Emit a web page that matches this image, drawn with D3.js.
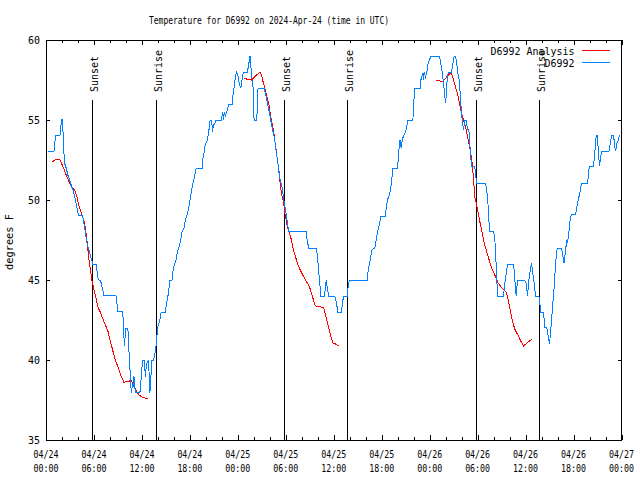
<!DOCTYPE html>
<html><head><meta charset="utf-8">
<script src="https://cdn.jsdelivr.net/npm/d3@7"></script>
<style>
body{margin:0;background:#fff}
svg{display:block}
text{font-family:"DejaVu Sans Mono",monospace;font-size:10.5px;fill:#000}
</style>
</head><body>
<svg id="chart" width="640" height="480"></svg>
<script>
// ---------------- data ----------------
const titleText = "Temperature for D6992 on 2024-Apr-24 (time in UTC)";
const yAxisLabel = "degrees F";
const obsName = "D6992";
const analysisName = "D6992 Analysis";

// hours since 04/24 00:00 UTC
const majorTickHours = [0,6,12,18,24,30,36,42,48,54,60,66,72];
const tickDates = ["04/24","04/24","04/24","04/24","04/25","04/25","04/25","04/25","04/26","04/26","04/26","04/26","04/27"];
const tickTimes = ["00:00","06:00","12:00","18:00","00:00","06:00","12:00","18:00","00:00","06:00","12:00","18:00","00:00"];
const minorTickHours = [2,4,8,10,14,16,20,22,26,28,32,34,38,40,44,46,50,52,56,58,62,64,68,70];
const yTicks = [35,40,45,50,55,60];

const sunsetHours = [5.8, 29.82, 53.85];
const sunriseHours = [13.8, 37.71, 61.74];

// observed temperature [hour, degF]
const observed = [
[0.21,53.04],[1.0,53.04],[1.08,53.54],[1.25,54.04],[1.75,54.04],[1.83,54.54],[2.0,55.04],[2.08,55.04],[2.17,53.54],[2.33,52.29],[2.5,52.04],[2.75,51.54],[2.92,51.29],[3.08,51.04],[3.25,50.79],[3.42,50.54],[3.67,50.04],[3.92,49.38],[4.08,49.04],[4.58,49.04],[4.67,48.79],[4.83,48.29],[5.0,47.7],[5.17,47.2],[5.33,46.96],[5.58,46.46],[5.75,46.2],[5.83,46.0],[6.33,46.0],[6.42,45.27],[6.58,45.0],[6.83,44.96],[7.0,44.58],[7.25,44.04],[8.75,44.04],[9.0,43.04],[9.58,43.04],[9.67,42.5],[9.75,41.46],[9.83,40.9],[9.92,41.7],[10.0,41.96],[10.25,41.96],[10.33,41.0],[10.5,39.5],[10.67,37.96],[10.83,38.5],[10.92,38.33],[11.0,39.0],[11.17,37.96],[11.75,37.96],[11.92,38.96],[12.08,39.96],[12.33,39.96],[12.42,38.96],[12.58,39.75],[12.83,39.96],[13.0,37.96],[13.25,39.96],[13.42,39.96],[13.58,40.2],[13.75,40.8],[13.83,41.25],[14.0,42.08],[14.25,42.54],[14.42,43.0],[14.92,43.0],[15.08,43.54],[15.33,44.2],[15.5,45.0],
[15.77,45.0],[15.94,45.75],[16.1,46.0],[16.27,46.25],[16.44,46.75],[16.6,47.0],[16.86,47.5],[17.02,48.0],[17.27,48.25],[17.44,48.75],[17.6,49.0],[17.86,49.5],[18.02,50.0],[18.19,50.5],[18.36,51.0],[18.61,51.5],[18.78,52.0],[19.53,52.0],[19.61,52.5],[19.78,53.0],[19.94,53.5],[20.19,53.75],[20.36,54.25],[20.53,55.0],[20.7,55.0],[20.86,54.25],[20.94,54.75],[21.1,54.75],[21.27,55.0],[21.94,55.0],[22.1,55.5],[22.2,55.0],[22.3,55.5],[22.45,55.25],[22.6,55.5],[22.86,56.0],[23.28,56.0],[23.37,56.5],[23.53,57.0],[23.7,57.75],[23.87,58.0],[24.03,57.75],[24.2,57.25],[24.37,57.0],[24.53,57.5],[24.7,58.0],[25.2,58.0],[25.37,58.5],[25.53,59.0],[25.6,58.5],[25.7,58.0],[25.78,57.5],[25.95,56.9],[26.03,55.0],[26.37,55.0],[26.45,56.0],[26.53,57.0],[27.29,57.0],[27.45,56.67],[27.62,56.25],[27.87,55.67],[28.04,55.25],[28.2,54.75],[28.45,54.17],[28.62,53.75],[28.79,53.1],[28.96,52.5],[29.12,51.9],
[29.29,51.25],[29.54,50.8],[29.7,50.2],[29.88,49.6],[30.04,49.17],[30.21,48.54],[30.38,48.04],[32.55,48.04],[32.7,47.4],[32.88,47.0],[33.8,47.0],[33.96,46.5],[34.13,45.5],[34.3,44.5],[34.38,44.0],[34.8,44.0],[34.97,44.5],[35.05,45.0],[35.2,44.5],[35.38,44.0],[36.13,44.0],[36.38,43.5],[36.47,43.0],[36.97,43.0],[37.14,43.75],[37.3,44.0],[37.72,44.0],
[37.8,44.6],[37.97,45.0],[40.22,45.0],[40.3,45.6],[40.47,46.0],[40.64,46.5],[40.8,46.9],[41.14,47.0],[41.3,47.5],[41.47,48.0],[41.72,48.5],[41.89,49.0],[42.47,49.0],[42.56,49.5],[42.72,50.0],[42.97,50.33],[43.14,50.75],[43.31,51.5],[43.39,52.0],[43.98,52.0],[44.14,53.0],[44.23,53.75],[44.3,53.33],[44.4,53.75],[44.48,53.25],[44.56,53.75],[44.73,54.0],[44.98,54.25],[45.14,54.6],[45.3,55.0],[45.9,55.0],[46.06,56.5],[46.15,57.0],[46.8,57.0],[46.9,57.5],[47.15,57.96],[47.23,57.5],[47.3,58.0],[47.48,57.7],[47.65,58.0],[47.8,58.5],[47.98,58.75],[48.15,59.0],[49.23,59.0],[49.4,58.5],[49.57,58.0],[49.73,57.3],[49.9,56.46],[49.98,56.04],[50.07,56.5],[50.15,57.3],[50.32,58.0],[50.73,58.0],[50.9,58.5],[51.07,59.0],[51.24,59.0],[51.4,58.5],[51.48,58.0],[51.65,57.7],[51.82,56.67],[51.98,55.4],[52.07,55.0],[52.23,54.4],[52.4,55.0],[52.57,55.0],[52.73,54.4],[52.9,54.4],[53.07,53.13],[53.24,52.08],[53.65,52.08],[53.82,51.25],[53.9,51.04],
[54.99,51.04],[55.15,50.6],[55.32,49.6],[55.49,48.04],[55.99,48.04],[56.16,47.5],[56.33,45.83],[56.49,44.0],[57.24,44.0],[57.41,44.8],[57.58,45.4],[57.74,46.0],[58.5,46.0],[58.66,45.0],[58.82,44.0],[58.99,45.0],[59.83,45.0],[60.08,44.8],[60.24,44.0],[60.41,45.0],[60.58,45.6],[60.74,46.04],[60.91,45.4],[61.08,44.8],[61.24,44.0],[61.66,44.0],[61.74,43.75],[61.91,43.0],[62.24,43.0],[62.41,42.04],[62.66,42.0],[62.83,41.46],[62.99,41.0],[63.08,41.46],[63.25,42.5],[63.41,43.54],[63.58,44.58],[63.75,46.04],[63.92,46.88],[64.08,47.0],[64.5,47.0],[64.67,46.46],[64.83,46.04],[65.0,46.88],[65.17,47.5],[65.25,47.3],[65.42,48.0],[65.59,48.83],[65.75,49.08],[66.25,49.08],[66.42,49.6],[66.59,50.0],[66.84,50.58],[67.0,51.04],[67.76,51.04],[67.92,51.9],[68.0,52.1],[68.5,52.1],[68.59,52.6],[68.76,53.54],[68.84,54.04],[69.0,54.04],[69.09,53.1],[69.26,52.1],[69.34,52.5],[69.5,53.04],[70.43,53.04],[70.6,53.54],[70.76,54.04],[71.0,54.04],[71.18,53.3],[71.26,53.04],[71.43,53.54],[71.6,53.75],[71.76,54.04]
];

// analysis temperature, one array per evening [hour, degF]
const analysisDay1 = [[0.79,52.4],[1.17,52.5],[1.67,52.54],[1.83,52.42],[2.17,52.04],[2.5,51.6],[2.75,51.3],[3.0,51.0],[3.25,50.8],[3.58,50.6],[3.83,50.3],[4.08,49.7],[4.33,49.3],[4.58,48.96],[4.83,48.54],[5.0,47.96],[5.17,47.3],[5.33,46.46],[5.5,45.83],[5.75,44.96],[6.0,44.4],[6.25,43.9],[6.5,43.3],[6.75,43.04],[7.0,42.7],[7.25,42.4],[7.5,42.1],[7.75,41.8],[8.0,41.25],[8.25,40.8],[8.5,40.3],[8.75,39.9],[9.08,39.46],[9.42,38.96],[9.75,38.6],[10.17,38.67],[10.67,38.7],[10.9,38.5],[11.25,38.1],[11.67,37.8],[12.08,37.67],[12.75,37.58]];
const analysisDay2 = [[24.78,57.63],[25.2,57.54],[25.7,57.5],[26.2,57.75],[26.78,58.0],[26.95,57.83],[27.2,57.3],[27.45,56.88],[27.62,56.46],[27.87,56.04],[28.04,55.42],[28.29,54.8],[28.45,54.38],[28.62,53.75],[28.79,53.13],[28.96,52.5],[29.12,51.88],[29.29,51.04],[29.46,50.4],[29.71,49.9],[29.88,49.17],[30.21,48.33],[30.46,47.92],[30.71,47.5],[30.96,46.88],[31.21,46.46],[31.46,46.04],[31.8,45.63],[32.13,45.31],[32.46,45.0],[32.71,44.79],[32.96,44.58],[33.21,44.17],[33.46,43.75],[33.71,43.38],[34.05,43.33],[34.72,43.29],[34.88,43.0],[35.13,42.5],[35.38,41.98],[35.63,41.46],[35.88,41.08],[36.21,41.0],[36.63,40.88]];
const analysisDay3 = [[48.73,57.5],[49.23,57.46],[49.57,57.38],[49.9,57.54],[50.23,57.75],[50.57,57.92],[50.73,57.96],[50.98,57.5],[51.23,57.08],[51.48,56.63],[51.74,56.04],[51.98,55.42],[52.24,55.0],[52.49,54.58],[52.65,54.17],[52.82,53.75],[53.07,53.13],[53.32,52.29],[53.49,51.25],[53.65,50.2],[53.82,49.8],[53.99,49.38],[54.32,48.54],[54.49,48.13],[54.66,47.7],[54.82,47.3],[55.07,46.88],[55.32,46.46],[55.57,46.04],[55.82,45.63],[56.07,45.42],[56.33,45.08],[56.57,44.8],[56.91,44.58],[57.24,44.42],[57.58,44.25],[57.74,43.96],[57.91,43.54],[58.16,42.9],[58.41,42.33],[58.66,41.92],[58.91,41.67],[59.16,41.46],[59.33,41.25],[59.74,40.88],[60.74,41.29]];

// ---------------- drawing ----------------
const L = 46, R = 621.5, T = 40, B = 440;
const red = "#ff0000", blue = "#0080ff";
const svg = d3.select("#chart");
const x = d3.scaleLinear().domain([0, 72]).range([L, R]);
const y = d3.scaleLinear().domain([35, 60]).range([B, T]);

// squeeze text to the reference's glyph pitch
const fit = (sel, perChar) => sel.each(function () {
  const n = this.textContent.length;
  d3.select(this).attr("textLength", n * perChar).attr("lengthAdjust", "spacingAndGlyphs");
});

// title
svg.append("text").attr("x", 149).attr("y", 24).text(titleText).call(fit, 4.8);

// axes (ticks inward, mirrored)
const crisp = g => g.attr("shape-rendering", "crispEdges");
const noDomain = g => { g.select(".domain").remove(); g.selectAll("line").attr("stroke", "#000"); };

svg.append("g").attr("transform", `translate(0,${B})`).call(crisp)
  .call(d3.axisBottom(x).tickValues(majorTickHours).tickSize(-5).tickFormat(""))
  .call(noDomain);
svg.append("g").attr("transform", `translate(0,${B})`).call(crisp)
  .call(d3.axisBottom(x).tickValues(minorTickHours).tickSize(-3).tickFormat(""))
  .call(noDomain);
svg.append("g").attr("transform", `translate(0,${T})`).call(crisp)
  .call(d3.axisTop(x).tickValues(majorTickHours).tickSize(-5).tickFormat(""))
  .call(noDomain);
svg.append("g").attr("transform", `translate(0,${T})`).call(crisp)
  .call(d3.axisTop(x).tickValues(minorTickHours).tickSize(-3).tickFormat(""))
  .call(noDomain);
svg.append("g").attr("transform", `translate(${L},0)`).call(crisp)
  .call(d3.axisLeft(y).tickValues(yTicks).tickSize(-4).tickFormat(""))
  .call(noDomain);
svg.append("g").attr("transform", `translate(${R},0)`).call(crisp)
  .call(d3.axisRight(y).tickValues(yTicks).tickSize(-4).tickFormat(""))
  .call(noDomain);

// x tick labels (two lines)
const xl = svg.append("g");
majorTickHours.forEach((h, i) => {
  xl.append("text").attr("x", x(h)).attr("y", 457.5).attr("text-anchor", "middle")
    .text(tickDates[i]).call(fit, 5);
  xl.append("text").attr("x", x(h)).attr("y", 471.5).attr("text-anchor", "middle")
    .text(tickTimes[i]).call(fit, 5);
});
// y tick labels
svg.append("g").selectAll("text").data(yTicks).join("text")
  .attr("x", 40).attr("y", d => y(d) + 4).attr("text-anchor", "end").text(d => d)
  .call(fit, 6);

// y axis label
svg.append("text").attr("transform", "translate(13,242) rotate(-90)")
  .attr("text-anchor", "middle").text(yAxisLabel).call(fit, 6.2);

// sunrise / sunset markers
const markTop = T + (B - T) * 0.15;
const labelY = T + (B - T) * 0.13;
const events = sunsetHours.map(h => [h, "Sunset"]).concat(sunriseHours.map(h => [h, "Sunrise"]));
const ev = svg.append("g");
events.forEach(([h, label]) => {
  ev.append("line").attr("x1", x(h)).attr("x2", x(h)).attr("y1", markTop).attr("y2", B)
    .attr("stroke", "#000").attr("shape-rendering", "crispEdges");
  ev.append("text").attr("transform", `translate(${x(h) + 5.5},${labelY}) rotate(-90)`)
    .attr("text-anchor", "start").text(label).call(fit, 6);
});

// series
const line = d3.line().x(d => x(d[0])).y(d => y(d[1]));
[analysisDay1, analysisDay2, analysisDay3].forEach(seg => {
  svg.append("path").datum(seg).attr("d", line).attr("fill", "none")
    .attr("stroke", red).attr("stroke-width", 1).attr("shape-rendering", "crispEdges");
});
svg.append("path").datum(observed).attr("d", line).attr("fill", "none")
  .attr("stroke", blue).attr("stroke-width", 1).attr("shape-rendering", "crispEdges");

// border
svg.append("rect").attr("x", L).attr("y", T).attr("width", R - L).attr("height", B - T)
  .attr("fill", "none").attr("stroke", "#000").attr("shape-rendering", "crispEdges");

// legend
const leg = svg.append("g");
[[analysisName, red, 54.5, 50], [obsName, blue, 66.5, 62]].forEach(([name, col, ty, ly]) => {
  leg.append("text").attr("x", 574.5).attr("y", ty).attr("text-anchor", "end").text(name).call(fit, 6);
  leg.append("line").attr("x1", 582).attr("x2", 610).attr("y1", ly).attr("y2", ly)
    .attr("stroke", col).attr("shape-rendering", "crispEdges");
});
</script>
</body></html>
